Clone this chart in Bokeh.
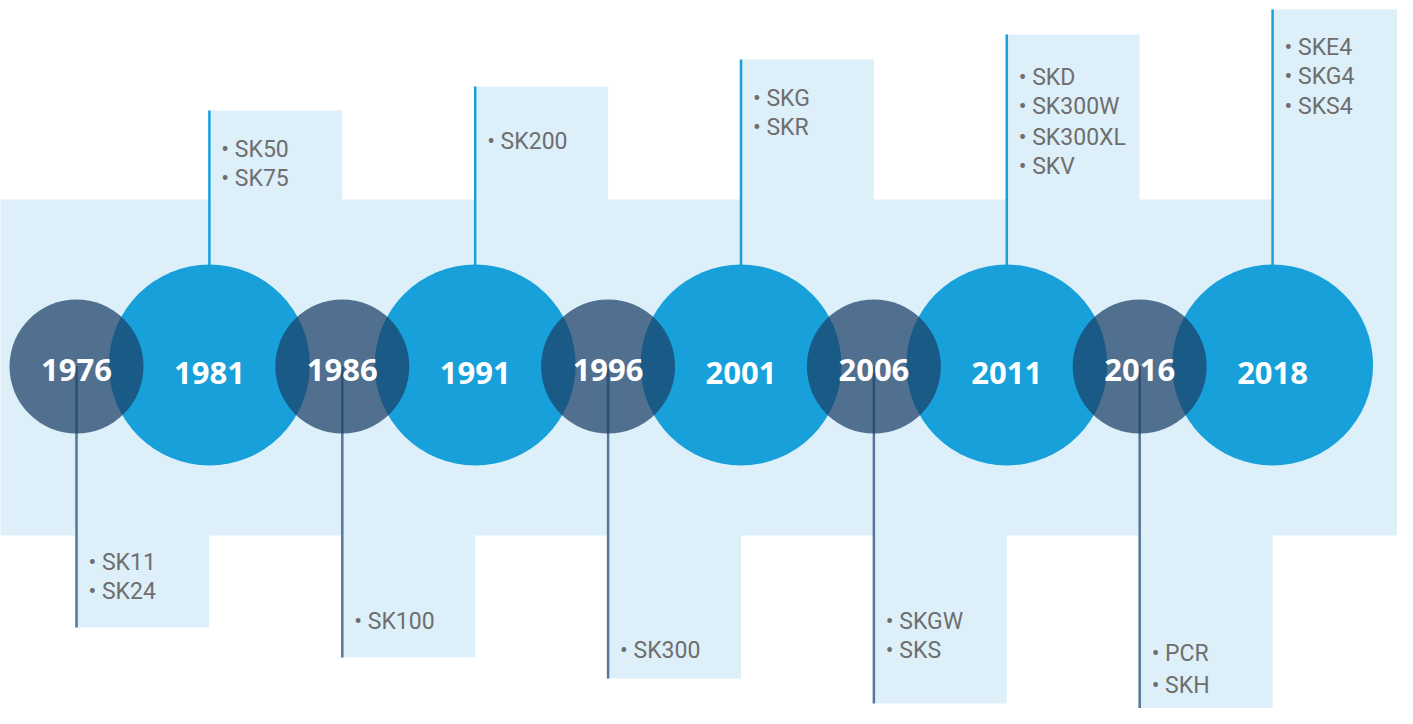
from bokeh.plotting import figure
from bokeh.models import Range1d
from bokeh.embed import file_html
from bokeh.resources import INLINE
from bokeh.core.properties import value

# ---- data ----
years = ["1976", "1981", "1986", "1991", "1996", "2001", "2006", "2011", "2016", "2018"]
products = [
    ["SK11", "SK24"],
    ["SK50", "SK75"],
    ["SK100"],
    ["SK200"],
    ["SK300"],
    ["SKG", "SKR"],
    ["SKGW", "SKS"],
    ["SKD", "SK300W", "SK300XL", "SKV"],
    ["PCR", "SKH"],
    ["SKE4", "SKG4", "SKS4"],
]

# ---- layout (pixel-from-top coordinates for y, event index for x) ----
big = [i % 2 == 1 for i in range(len(years))]
box_ends = [627, 110, 657, 86, 678, 59, 703, 34, 730, 9]
item_y = [
    [562, 591], [149, 178], [621], [141], [650],
    [98, 127], [621, 650], [77, 106, 137, 166], [653, 685], [47, 76, 106],
]
band_top, band_bot = 199, 535
cy_small, cy_big = 366, 364.5
d_small, d_big = 134, 201

BAND = "#ddf0f9"
BLUE = "#17a0da"
DARK = "#1a3e66"
LINE_DARK = "#56769a"
GREY = "#6e6e6e"

p = figure(width=1397, height=708, output_backend="svg", toolbar_location=None,
           x_range=Range1d(-0.5719, 9.940), y_range=Range1d(708, 0),
           min_border=0)
p.axis.visible = False
p.grid.visible = False
p.outline_line_color = None
p.background_fill_color = "white"
p.border_fill_color = "white"

# band
p.quad(left=[-1], right=[11], top=[band_top], bottom=[band_bot], fill_color=BAND, line_color=None)

# boxes
for i, yr in enumerate(years):
    if big[i]:
        p.quad(left=[i], right=[i + 1], top=[box_ends[i]], bottom=[band_top + 1],
               fill_color=BAND, line_color=None)
    else:
        p.quad(left=[i], right=[i + 1], top=[band_bot - 1], bottom=[box_ends[i]],
               fill_color=BAND, line_color=None)

# connector lines
for i, yr in enumerate(years):
    if big[i]:
        p.segment(x0=[i], y0=[box_ends[i]], x1=[i], y1=[cy_big], line_color=BLUE, line_width=2.5)
    else:
        p.segment(x0=[i], y0=[cy_small], x1=[i], y1=[box_ends[i]], line_color=LINE_DARK, line_width=2.5)

bx = [i for i in range(len(years)) if big[i]]
sx = [i for i in range(len(years)) if not big[i]]
p.scatter(x=bx, y=[cy_big] * len(bx), size=d_big, marker="circle", fill_color=BLUE, line_color=None)
p.scatter(x=sx, y=[cy_small] * len(sx), size=d_small, marker="circle", fill_color=DARK,
          fill_alpha=0.72, line_color=None)

# year labels
p.text(x=bx, y=[372] * len(bx), text=[years[i] for i in bx], text_align="center",
       text_baseline="middle", text_font=value("Open Sans"), text_font_style="bold",
       text_font_size="31px", text_color="white")
p.text(x=sx, y=[369] * len(sx), text=[years[i] for i in sx], text_align="center",
       text_baseline="middle", text_font=value("Open Sans"), text_font_style="bold",
       text_font_size="31px", text_color="white")

# product items
xs, ys, ts = [], [], []
for i, items in enumerate(products):
    for t, yy in zip(items, item_y[i]):
        xs.append(i + 0.09)
        ys.append(yy)
        ts.append("\u2022 " + t)
p.text(x=xs, y=ys, text=ts, text_align="left", text_baseline="middle",
       text_font=value("Roboto"), text_font_size="23px", text_color=GREY)

open("out.html", "w").write(file_html(p, INLINE))
